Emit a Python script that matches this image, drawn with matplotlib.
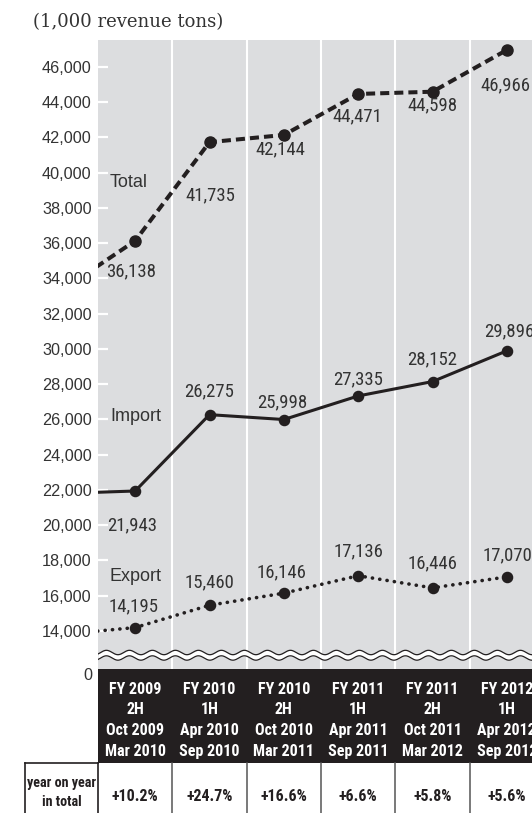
import numpy as np
import matplotlib
matplotlib.use("Agg")
import matplotlib.pyplot as plt
from matplotlib import font_manager
from matplotlib.font_manager import FontProperties

# ---------------------------------------------------------------- data
fy_labels = ["FY 2009", "FY 2010", "FY 2010", "FY 2011", "FY 2011", "FY 2012"]
half_labels = ["2H", "1H", "2H", "1H", "2H", "1H"]
start_labels = ["Oct 2009", "Apr 2010", "Oct 2010", "Apr 2011", "Oct 2011", "Apr 2012"]
end_labels = ["Mar 2010", "Sep 2010", "Mar 2011", "Sep 2011", "Mar 2012", "Sep 2012"]

total = [36138, 41735, 42144, 44471, 44598, 46966]
imports = [21943, 26275, 25998, 27335, 28152, 29896]
exports = [14195, 15460, 16146, 17136, 16446, 17070]

# previous half-year (FY 2009 1H): only the segment running into the first point shows
prev_total = 33300
prev_import = 21800
prev_export = 13800

yoy_total = ["+10.2%", "+24.7%", "+16.6%", "+6.6%", "+5.8%", "+5.6%"]
yticks = list(range(14000, 46001, 2000))
ytick_labels = [f"{v:,}" for v in yticks]

# ---------------------------------------------------------------- fonts
INK = "#231f20"
TXT = "#333333"
PANEL = "#dcdddf"


def find_condensed():
    """Return a family name that has a narrow/condensed face, or None."""
    fonts = font_manager.fontManager.ttflist
    names = {f.name for f in fonts}
    for fam in ("Liberation Sans Narrow", "Roboto Condensed", "Open Sans Condensed",
                "Arial Narrow", "Noto Sans Condensed"):
        if fam in names:
            return fam, "normal"
    for fam in ("Roboto", "Noto Sans", "Open Sans", "DejaVu Sans", "Inter", "Lato"):
        for f in fonts:
            if f.name == fam and f.stretch in ("condensed", "semi-condensed",
                                               "extra-condensed", "ultra-condensed"):
                return fam, "condensed"
    return None, None


COND_FAM, COND_STRETCH = find_condensed()


def cond(size, weight="normal"):
    if COND_FAM is None:
        return FontProperties(family=["Liberation Sans", "DejaVu Sans"], size=size * 0.88,
                              weight=weight)
    return FontProperties(family=[COND_FAM, "Liberation Sans"], stretch=COND_STRETCH,
                          size=size, weight=weight)


def sans(size):
    return FontProperties(family=["Liberation Sans", "DejaVu Sans"], size=size)


W, H, DPI = 532, 813, 100
fig = plt.figure(figsize=(W / DPI, H / DPI), dpi=DPI)
fig.patch.set_facecolor("white")

# main plotting panel (extends past the right edge of the figure)
ax_left, ax_right, ax_top, ax_bot = 98, 544, 40, 671
ax = fig.add_axes([ax_left / W, 1 - ax_bot / H, (ax_right - ax_left) / W, (ax_bot - ax_top) / H])
ax.set_facecolor(PANEL)
for s in ax.spines.values():
    s.set_visible(False)
ax.set_xlim(-0.5, 5.5)
ax.set_ylim(11730, 47532)
ax.set_xticks([])
ax.set_yticks(yticks)
ax.set_yticklabels(ytick_labels, fontproperties=sans(11.7), color=TXT)
ax.tick_params(axis="y", direction="in", length=7.5, width=1.6, color="white", pad=4.5)

n = len(total)
xs = np.arange(n)
for sep in np.arange(0.5, n - 0.5, 1.0):
    ax.axvline(sep, color="white", lw=1.5, zorder=1)

x_full = np.arange(-1, n)
marks = list(range(1, n + 1))
ax.plot(x_full, [prev_total] + total, color=INK, lw=2.9, linestyle=(0, (2.25, 1.25)),
        marker="o", ms=8, markevery=marks, zorder=3)
ax.plot(x_full, [prev_import] + imports, color=INK, lw=2.2, marker="o", ms=7.3,
        markevery=marks, zorder=3)
ax.plot(x_full, [prev_export] + exports, color=INK, lw=2.6, linestyle=(0, (0.05, 2.0)),
        dash_capstyle="round", marker="o", ms=7.3, markevery=marks, zorder=3)

# value labels, offset in pixels from their points
total_off = [(-4, -31), (1, -53), (-3, -14), (-1, -22), (0, -14), (-1, -35)]
import_off = [(-3, -34), (0, 23.6), (-2, 17.5), (0, 17), (0, 22.6), (2, 19)]
export_off = [(-2, 21.6), (0, 23), (-2, 21), (0, 24), (0, 25), (1, 22)]
num_fp = cond(13.5) if COND_FAM else sans(12)
for series, offs in ((total, total_off), (imports, import_off), (exports, export_off)):
    for x, v, (dx, dy) in zip(xs, series, offs):
        ax.annotate(f"{v:,}", (x, v), xytext=(dx, dy), textcoords="offset pixels",
                    ha="center", va="center", fontproperties=num_fp, color=TXT, zorder=4)

for name, yv in (("Total", 39475), ("Import", 26142), ("Export", 17064)):
    ax.text(-0.34, yv, name, ha="left", va="center", fontproperties=sans(13),
            color=TXT, zorder=4)

# overlay panel for the axis break, the period header and the growth row
tb_top = 640
tb = fig.add_axes([ax_left / W, 0, (ax_right - ax_left) / W, (H - tb_top) / H], zorder=5)
tb.patch.set_visible(False)
tb.axis("off")
tb.set_xlim(-0.5, 5.5)
tb.set_ylim(H, tb_top)

# wavy break band
wx = np.linspace(-0.5, 5.5, 1200)
phase = 2 * np.pi * wx / (23 / ((ax_right - ax_left) / 6))
w_up = 652.5 + 2.2 * np.sin(phase)
w_dn = 658.0 + 2.2 * np.sin(phase)
tb.fill_between(wx, w_up, w_dn, color="white", lw=0, zorder=1)
tb.plot(wx, w_up, color=INK, lw=0.9, zorder=2)
tb.plot(wx, w_dn, color=INK, lw=0.9, zorder=2)

# period header
head_top, head_bot = 669, 763
tb.fill_between([-0.5, 5.5], head_top, head_bot, color=INK, lw=0, zorder=1)
line_y = [689, 709.5, 730, 751]
head_fp = cond(11.5, "bold")
for i in range(n):
    for txt, yy in zip((fy_labels[i], half_labels[i], start_labels[i], end_labels[i]), line_y):
        tb.text(i, yy, txt, ha="center", va="center", fontproperties=head_fp,
                color="white", zorder=3)

# growth row
cell_left = -1.48
tb.plot([cell_left, -0.5], [head_bot, head_bot], color=INK, lw=1.2, clip_on=False)
tb.plot([cell_left, cell_left], [head_bot, H + 5], color=INK, lw=1.2, clip_on=False)
tb.plot([-0.5, -0.5], [head_bot, H + 5], color=INK, lw=1.2, clip_on=False)
for sep in np.arange(0.5, n - 0.5, 1.0):
    tb.plot([sep, sep], [head_bot, H + 5], color="#555555", lw=1.1, clip_on=False)
cell_fp = cond(10.2, "bold")
tb.text((cell_left - 0.5) / 2, 783, "year on year", ha="center", va="center",
        fontproperties=cell_fp, color=INK, clip_on=False)
tb.text((cell_left - 0.5) / 2, 802, "in total", ha="center", va="center",
        fontproperties=cell_fp, color=INK, clip_on=False)
pct_fp = cond(11.5, "bold")
for i, s in enumerate(yoy_total):
    tb.text(i, 796, s, ha="center", va="center", fontproperties=pct_fp, color=INK)

# zero mark below the break
fig.text(92 / W, 1 - 675 / H, "0", ha="right", va="center", fontproperties=sans(11.7),
         color=TXT)

# unit caption
fig.text(33 / W, 1 - 22 / H, "(1,000 revenue tons)", ha="left", va="center",
         family=["DejaVu Serif"], fontsize=13, color=TXT)

fig.savefig("out.png", dpi=DPI)
